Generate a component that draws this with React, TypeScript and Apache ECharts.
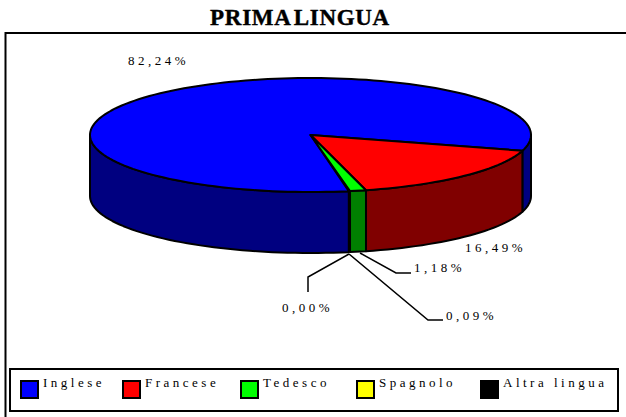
import React, { useEffect, useRef } from "react";
import * as echarts from "echarts";

const TITLE = "PRIMA LINGUA";
const names = ["Inglese", "Francese", "Tedesco", "Spagnolo", "Altra lingua"];
const values = [82.24, 16.49, 1.18, 0.09, 0.0];
const topColors = ["#0000ff", "#ff0000", "#00ff00", "#ffff00", "#000000"];
const wallColors = ["#000080", "#800000", "#008000", "#808000", "#000000"];
const legendLefts = [20, 122, 240, 356, 480];
const labelPositions = [
  [128, 60],
  [465, 247],
  [414, 267],
  [446, 315],
  [282, 307],
];
const leaderLines = [
  null,
  null,
  [[360, 253], [396, 273], [411, 273]],
  [[349, 254], [428, 320], [443, 320]],
  [[349, 254], [308, 277], [308, 292]],
];

const CX = 310.5;
const CY = 135;
const RX = 220.5;
const RY = 57;
const DEPTH = 61;
const START_ANGLE = 80;
const LABEL_FONT = "'Liberation Serif', serif";

const pct = (v: number) => v.toFixed(2).replace(".", ",") + "%";

function ellipsePoint(deg: number, dy = 0): number[] {
  const r = (deg * Math.PI) / 180;
  return [CX + RX * Math.cos(r), CY + dy + RY * Math.sin(r)];
}

function arcPoints(a0: number, a1: number, dy = 0): number[][] {
  const pts: number[][] = [];
  const steps = Math.max(1, Math.ceil((a1 - a0) / 2));
  for (let i = 0; i <= steps; i++) pts.push(ellipsePoint(a0 + ((a1 - a0) * i) / steps, dy));
  return pts;
}

// Part of [a0, a1] that lies on the near (front) half of the ellipse.
function frontRanges(a0: number, a1: number): number[][] {
  const out: number[][] = [];
  for (const k of [0, 360]) {
    const s = Math.max(a0, k);
    const e = Math.min(a1, k + 180);
    if (e > s) out.push([s, e]);
  }
  return out;
}

function makeRenderItem(index: number) {
  return (_params: unknown, api: any) => {
    const value = api.value(0);
    if (!value) return { type: "group", children: [] };
    const before = values.slice(0, index).reduce((a, b) => a + b, 0);
    const a0 = START_ANGLE + (before / 100) * 360;
    const a1 = a0 + (value / 100) * 360;
    // A sliver under one degree has no room for its own outline.
    const thin = a1 - a0 < 1;
    const lineStyle = { stroke: "#000", lineWidth: thin ? 0.5 : 2, lineJoin: "round" };
    const children: any[] = [];
    for (const [s, e] of frontRanges(a0, a1)) {
      const pts = [...arcPoints(s, e, 0), ...arcPoints(s, e, DEPTH).reverse()];
      children.push({
        type: "polygon",
        shape: { points: pts },
        style: { fill: thin ? "#000" : wallColors[index], ...lineStyle },
      });
    }
    children.push({
      type: "polygon",
      shape: { points: [[CX, CY], ...arcPoints(a0, a1)] },
      style: { fill: thin ? "#000" : topColors[index], ...lineStyle },
    });
    return { type: "group", children };
  };
}

export default function App() {
  const ref = useRef<HTMLDivElement>(null);
  useEffect(() => {
    document.body.style.margin = "0";
    const chart = echarts.init(ref.current!, undefined, { renderer: "svg" });
    const labelStyle = { fill: "#000", font: `13px ${LABEL_FONT}` };
    chart.setOption({
      animation: false,
      backgroundColor: "#fff",
      title: {
        text: TITLE,
        left: 295,
        top: 1,
        textAlign: "center",
        textStyle: { fontFamily: "'Liberation Serif', serif", fontWeight: "bold", fontSize: 23, color: "#000" },
      },
      legend: names.map((n, i) => ({
        data: [n],
        left: legendLefts[i],
        top: 376,
        padding: 0,
        itemWidth: 17,
        itemHeight: 17,
        itemGap: 0,
        icon: "rect",
        selectedMode: false,
        formatter: "{t|{name}}",
        textStyle: {
          color: "#000",
          rich: {
            t: {
              fontFamily: LABEL_FONT,
              fontSize: 13,
              color: "#000",
              padding: [0, 0, 14, 0],
            },
          },
        },
      })),
      graphic: [
        {
          type: "rect",
          z: -1,
          shape: { x: 5.5, y: 33, width: 640, height: 400 },
          style: { fill: "#fff", stroke: "#000", lineWidth: 2 },
        },
        {
          type: "rect",
          z: -1,
          shape: { x: 10, y: 369, width: 608, height: 42 },
          style: { fill: "#fff", stroke: "#000", lineWidth: 2 },
        },
        ...leaderLines.flatMap((pts) =>
          pts
            ? [{ type: "polyline", shape: { points: pts }, style: { stroke: "#000", lineWidth: 1.5, fill: "none" } }]
            : []
        ),
        ...values.map((v, i) => ({
          type: "text",
          x: labelPositions[i][0],
          y: labelPositions[i][1],
          style: { text: pct(v), verticalAlign: "middle", ...labelStyle },
        })),
      ],
      series: names.map((n, i) => ({
        type: "custom",
        name: n,
        coordinateSystem: "none",
        data: [[values[i]]],
        itemStyle: { color: topColors[i], borderColor: "#000", borderWidth: 2 },
        renderItem: makeRenderItem(i),
      })),
    });
    return () => chart.dispose();
  }, []);
  return (
    <>
      <style>{`.pie3d text:not([style*="bold"]) { letter-spacing: 3.5px; }
.pie3d text[style*="bold"] { letter-spacing: 0.7px; word-spacing: -3px; stroke: #000; stroke-width: 0.4px; }`}</style>
      <div className="pie3d" ref={ref} style={{ width: 626, height: 417 }} />
    </>
  );
}
